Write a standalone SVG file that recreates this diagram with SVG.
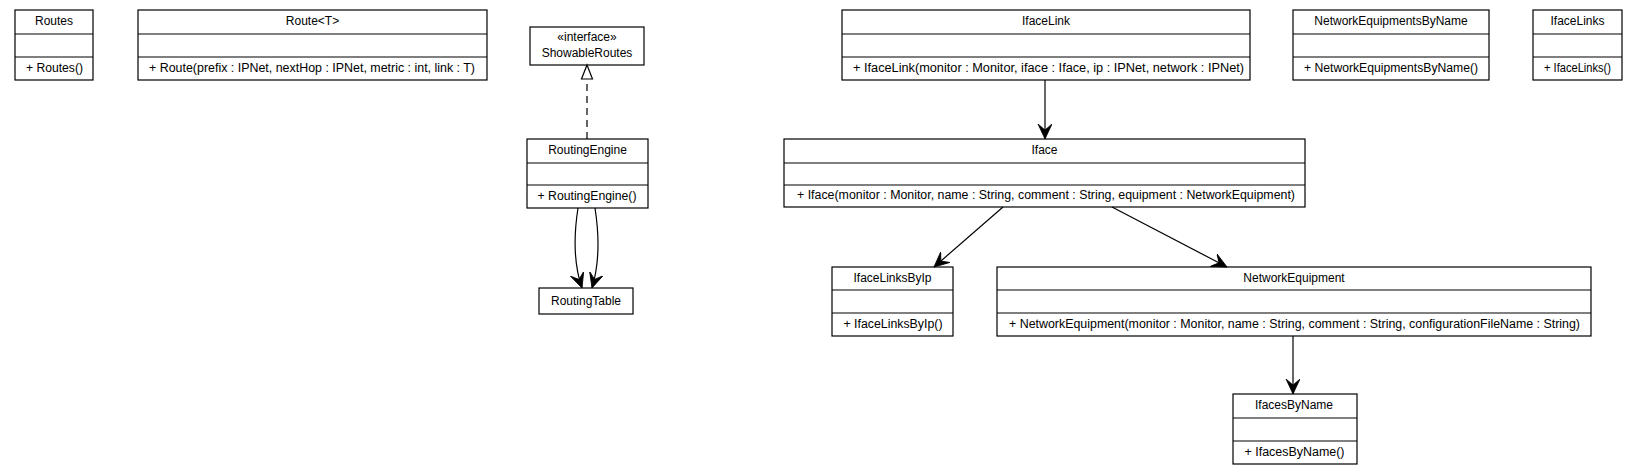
<svg xmlns="http://www.w3.org/2000/svg" width="1645" height="475" viewBox="0 0 1645 475">
<defs>
<style>
.box{fill:#fff;stroke:#000;stroke-width:1.2}
.div{stroke:#000;stroke-width:1.2}
.t{font-family:"Liberation Sans",Arial,sans-serif;font-size:12px;fill:#000;text-anchor:middle}
.m{font-family:"Liberation Sans",Arial,sans-serif;font-size:12px;fill:#000;text-anchor:middle}
.edge{fill:none;stroke:#000;stroke-width:1.2}
.dash{fill:none;stroke:#000;stroke-width:1.2;stroke-dasharray:7,5}
</style>
<marker id="vee" markerUnits="userSpaceOnUse" markerWidth="16" markerHeight="15" viewBox="0 0 16 15" refX="15" refY="7" orient="auto">
<path d="M15,7 L0,0 L6,7 L0,14 Z" fill="#000" stroke="#000" stroke-width="0.8" stroke-linejoin="miter"/>
</marker>
</defs>
<rect width="1645" height="475" fill="#fff"/>

<g id="Routes">
<rect class="box" x="15" y="10" width="78" height="70"/>
<line class="div" x1="15" y1="34" x2="93" y2="34"/>
<line class="div" x1="15" y1="57" x2="93" y2="57"/>
<text class="t" x="54" y="25">Routes</text>
<text class="m" x="54.5" y="71.5" textLength="57" lengthAdjust="spacingAndGlyphs">+ Routes()</text>
</g>

<g id="Route">
<rect class="box" x="138" y="10" width="349" height="70"/>
<line class="div" x1="138" y1="34" x2="487" y2="34"/>
<line class="div" x1="138" y1="57" x2="487" y2="57"/>
<text class="t" x="312.5" y="25">Route&lt;T&gt;</text>
<text class="m" x="312" y="71.5" textLength="326" lengthAdjust="spacingAndGlyphs">+ Route(prefix : IPNet, nextHop : IPNet, metric : int, link : T)</text>
</g>

<g id="ShowableRoutes">
<rect class="box" x="530" y="27" width="114" height="38"/>
<text class="t" x="587" y="40.5">«interface»</text>
<text class="t" x="587" y="57">ShowableRoutes</text>
</g>

<g id="RoutingEngine">
<rect class="box" x="527" y="139" width="121" height="69"/>
<line class="div" x1="527" y1="163" x2="648" y2="163"/>
<line class="div" x1="527" y1="185" x2="648" y2="185"/>
<text class="t" x="587.5" y="154">RoutingEngine</text>
<text class="m" x="587" y="199.5" textLength="99" lengthAdjust="spacingAndGlyphs">+ RoutingEngine()</text>
</g>

<g id="RoutingTable">
<rect class="box" x="539" y="288" width="94" height="26"/>
<text class="t" x="586" y="305">RoutingTable</text>
</g>

<g id="IfaceLink">
<rect class="box" x="842" y="10" width="408" height="70"/>
<line class="div" x1="842" y1="34" x2="1250" y2="34"/>
<line class="div" x1="842" y1="57" x2="1250" y2="57"/>
<text class="t" x="1046" y="25">IfaceLink</text>
<text class="m" x="1048.5" y="71.5" textLength="391" lengthAdjust="spacingAndGlyphs">+ IfaceLink(monitor : Monitor, iface : Iface, ip : IPNet, network : IPNet)</text>
</g>

<g id="NetworkEquipmentsByName">
<rect class="box" x="1293" y="10" width="196" height="70"/>
<line class="div" x1="1293" y1="34" x2="1489" y2="34"/>
<line class="div" x1="1293" y1="57" x2="1489" y2="57"/>
<text class="t" x="1391" y="25">NetworkEquipmentsByName</text>
<text class="m" x="1391" y="71.5" textLength="174" lengthAdjust="spacingAndGlyphs">+ NetworkEquipmentsByName()</text>
</g>

<g id="IfaceLinks">
<rect class="box" x="1533" y="10" width="89" height="70"/>
<line class="div" x1="1533" y1="34" x2="1622" y2="34"/>
<line class="div" x1="1533" y1="57" x2="1622" y2="57"/>
<text class="t" x="1577.5" y="25">IfaceLinks</text>
<text class="m" x="1577.5" y="71.5" textLength="67" lengthAdjust="spacingAndGlyphs">+ IfaceLinks()</text>
</g>

<g id="Iface">
<rect class="box" x="784" y="139" width="521" height="68"/>
<line class="div" x1="784" y1="163" x2="1305" y2="163"/>
<line class="div" x1="784" y1="185" x2="1305" y2="185"/>
<text class="t" x="1044.5" y="154">Iface</text>
<text class="m" x="1046" y="199" textLength="498" lengthAdjust="spacingAndGlyphs">+ Iface(monitor : Monitor, name : String, comment : String, equipment : NetworkEquipment)</text>
</g>

<g id="IfaceLinksByIp">
<rect class="box" x="832" y="267" width="121" height="69"/>
<line class="div" x1="832" y1="290" x2="953" y2="290"/>
<line class="div" x1="832" y1="313" x2="953" y2="313"/>
<text class="t" x="892.5" y="282">IfaceLinksByIp</text>
<text class="m" x="893" y="327.5" textLength="99" lengthAdjust="spacingAndGlyphs">+ IfaceLinksByIp()</text>
</g>

<g id="NetworkEquipment">
<rect class="box" x="997" y="267" width="594" height="69"/>
<line class="div" x1="997" y1="290" x2="1591" y2="290"/>
<line class="div" x1="997" y1="313" x2="1591" y2="313"/>
<text class="t" x="1294" y="282">NetworkEquipment</text>
<text class="m" x="1294.5" y="327.5" textLength="571" lengthAdjust="spacingAndGlyphs">+ NetworkEquipment(monitor : Monitor, name : String, comment : String, configurationFileName : String)</text>
</g>

<g id="IfacesByName">
<rect class="box" x="1233" y="394" width="124" height="70"/>
<line class="div" x1="1233" y1="418" x2="1357" y2="418"/>
<line class="div" x1="1233" y1="441" x2="1357" y2="441"/>
<text class="t" x="1294" y="409">IfacesByName</text>
<text class="m" x="1294.5" y="455.5" textLength="100" lengthAdjust="spacingAndGlyphs">+ IfacesByName()</text>
</g>

<g id="connectors">
<path class="dash" d="M587,139 L587,79"/>
<path d="M587,65 L592.5,79 L581.5,79 Z" fill="#fff" stroke="#000" stroke-width="1.2"/>
<path class="edge" d="M578,208 C573,240 574,265 582,288" marker-end="url(#vee)"/>
<path class="edge" d="M595,208 C600,240 599,265 592,288" marker-end="url(#vee)"/>
<path class="edge" d="M1045,80 L1045,139" marker-end="url(#vee)"/>
<path class="edge" d="M1003,207 L934,267" marker-end="url(#vee)"/>
<path class="edge" d="M1112,207 L1227,267" marker-end="url(#vee)"/>
<path class="edge" d="M1293,336 L1293,394" marker-end="url(#vee)"/>
</g>
</svg>
